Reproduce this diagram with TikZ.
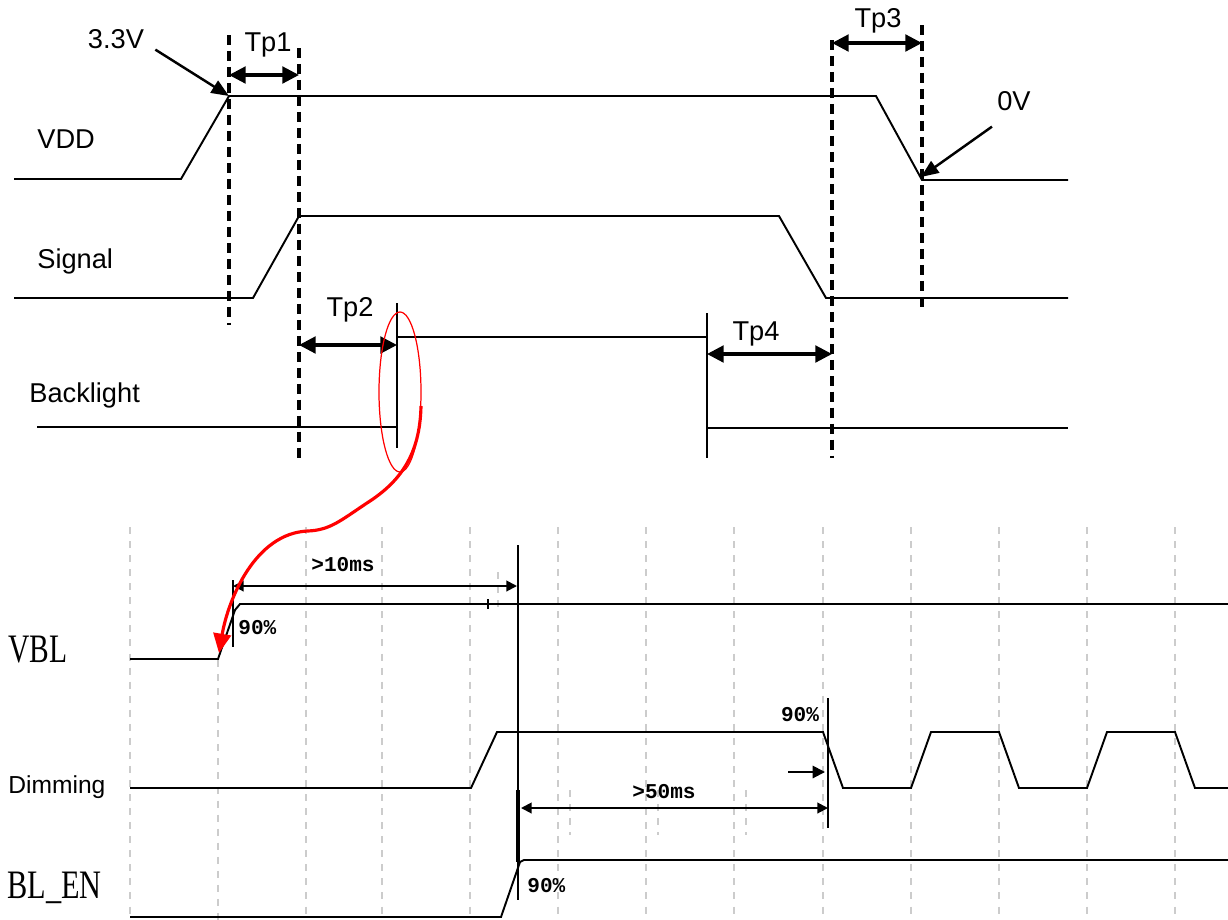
\documentclass[tikz,border=0pt]{standalone}
\usepackage{fontspec}
\setmainfont{Liberation Sans}
\newfontfamily\seriffont{Liberation Serif}
\newfontfamily\pixfont{Liberation Mono}
\usetikzlibrary{arrows.meta}

\begin{document}
\begin{tikzpicture}[x=0.02cm, y=-0.02cm,
    onda/.style={line width=1.1pt},
    tratt/.style={line width=2pt, dash pattern=on 5.7pt off 3.4pt},
    quota/.style={line width=1.8pt, {Triangle[length=9.5pt,width=9.5pt]}-{Triangle[length=9.5pt,width=9.5pt]}},
    quotina/.style={line width=1.1pt, {Triangle[length=6pt,width=6pt]}-{Triangle[length=6pt,width=6pt]}},
    punta/.style={line width=1.4pt, -{Triangle[length=10pt,width=8pt]}},
    griglia/.style={gray!40, line width=1pt, dash pattern=on 4pt off 4pt},
    etic/.style={font=\fontsize{15.5}{18}\selectfont, inner sep=0pt, anchor=base},
    pct/.style={font=\pixfont\bfseries\fontsize{12}{14}\selectfont, inner sep=0pt, anchor=base}]

    % riquadro
    \useasboundingbox (0,0) rectangle (1228,920);

    % punti notevoli
    \coordinate (vdd_on) at (229,96);
    \coordinate (vdd_off) at (921,177);

    % VDD e Signal
    \draw[onda] (14,179) -- (181,179) -- (vdd_on) -- (876,96) -- (922,180) -- (1068,180);
    \draw[onda] (14,298) -- (253,298) -- (299,216) -- (779,216) -- (826,298) -- (1068,298);

    % Backlight
    \draw[onda] (37,427) -- (397,427);
    \draw[onda] (397,303) -- (397,448);
    \draw[onda] (397,337) -- (707,337);
    \draw[onda] (707,313) -- (707,458);
    \draw[onda] (707,428) -- (1068,428);

    % linee tratteggiate
    \draw[tratt] (229,35) -- (229,325);
    \draw[tratt] (299,48) -- (299,463);
    \draw[tratt] (832,40) -- (832,458);
    \draw[tratt] (922,25) -- (922,312);

    % quote Tp
    \draw[quota] (229,75) -- (299,75);
    \draw[quota] (832,43) -- (922,43);
    \draw[quota] (299,345) -- (397,345);
    \draw[quota] (707,354) -- (832,354);

    % etichette in alto
    \node[etic] (tp1) at (268,51) {Tp1};
    \node[etic] (tp2) at (350,316) {Tp2};
    \node[etic] (tp3) at (878,27) {Tp3};
    \node[etic] (tp4) at (756,340) {Tp4};
    \node[etic] (v33) at (116,48) {3.3V};
    \node[etic] (v0) at (1014,110) {0V};
    \node[etic, anchor=base west] (vdd) at (37,148) {VDD};
    \node[etic, anchor=base west] (sig) at (37,268) {Signal};
    \node[etic, anchor=base west] (bl) at (29,402) {Backlight};

    % frecce dei livelli
    \draw[punta] ([shift={(11,1)}]v33.south east) -- (vdd_on);
    \draw[punta] ([shift={(-5,16)}]v0.south west) -- (vdd_off);

    % griglia dell'oscilloscopio
    \foreach \gx in {130,306,382,470,558,646,734,823,911,999,1087,1175}
        \draw[griglia] (\gx,527) -- (\gx,920);
    \draw[griglia] (218,660) -- (218,920);
    \foreach \gx in {570,658,746}
        \draw[griglia] (\gx,790) -- (\gx,835);
    \draw[griglia] (498,572) -- (498,612);

    % VBL
    \draw[onda] (130,659) -- (218,659) -- (235,610) -- (240,604) -- (1228,604);
    \draw[onda] (233,580) -- (233,647);
    \draw[onda] (488,599) -- (488,609);
    \draw[quotina] (233,586) -- (517,586);

    % Dimming
    \draw[onda] (130,788) -- (471,788) -- (497,732) -- (823,732) -- (843,788)
        -- (911,788) -- (931,732) -- (999,732) -- (1019,788)
        -- (1087,788) -- (1107,732) -- (1175,732) -- (1195,788) -- (1228,788);
    \draw[onda] (828,698) -- (828,828);
    \draw[onda, -{Triangle[length=7pt,width=7pt]}] (788,772) -- (825,772);
    \draw[quotina] (521,808) -- (828,808);

    % BL_EN
    \draw[onda] (130,917) -- (501,917) -- (520,862) -- (524,860) -- (1228,860);
    \draw[onda] (518,545) -- (518,900);
    \draw[line width=2.2pt] (518,790) -- (518,862);

    % etichette in basso
    \node[anchor=base west, inner sep=0pt, font=\seriffont\fontsize{23}{26}\selectfont] (vbl) at (8,662) {\scalebox{0.73}[1]{VBL}};
    \node[anchor=base west, inner sep=0pt, font=\fontsize{14}{16}\selectfont] (dim) at (8,793) {Dimming};
    \node[anchor=base west, inner sep=0pt, font=\seriffont\fontsize{23}{26}\selectfont] (blen) at (7,898) {\scalebox{0.75}[1]{BL\_EN}};
    \node[pct] (t10) at (343,571) {>10ms};
    \node[pct] (t50) at (664,798) {>50ms};
    \node[pct, anchor=base west] (p1) at (238,634) {90\%};
    \node[pct] (p2) at (800,721) {90\%};
    \node[pct, anchor=base west] (p3) at (527,892) {90\%};

    % cerchio rosso e freccia
    \draw[red, line width=0.7pt] (400,392) ellipse [x radius=21, y radius=80];
    \draw[red, line width=1.8pt, -{Triangle[length=11pt,width=10pt]}]
        (421,406) .. controls (420,455) and (400,482) .. (367,503)
        .. controls (340,521) and (330,530) .. (308,531)
        .. controls (255,533) and (228,600) .. (219,653);
\end{tikzpicture}
\end{document}
